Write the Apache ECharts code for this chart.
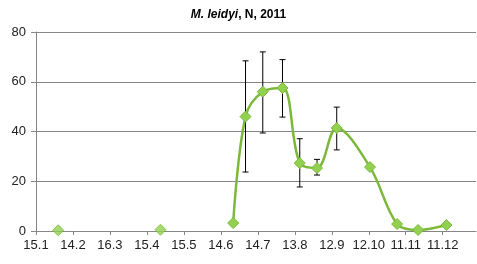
<!DOCTYPE html>
<html>
<head>
<meta charset="utf-8">
<script src="https://cdn.jsdelivr.net/npm/echarts@6/dist/echarts.min.js"></script>
<style>
  html, body { margin: 0; padding: 0; background: #fff; }
  #main { width: 477px; height: 264px; }
</style>
</head>
<body>
<div id="main"></div>
<script>
// sampling dates (2011) and abundance with error bars
const dates = ['2011-02-02', '2011-04-26', '2011-06-24', '2011-07-04', '2011-07-18', '2011-08-03',
  '2011-08-17', '2011-08-31', '2011-09-16', '2011-10-13', '2011-11-04', '2011-11-21', '2011-12-14'];
const values = [0.3, 0.5, 3.2, 46, 56, 57.5, 27.3, 25.3, 41.4, 25.7, 2.8, 0.4, 2.4];
const errLow = [null, null, null, 23.7, 39.4, 45.8, 17.7, 22.5, 32.6, null, null, null, null];
const errHigh = [null, null, null, 68.4, 72, 68.9, 37.1, 28.8, 49.8, null, null, null, null];
// first two samples are not joined to the curve (gaps in the series)
const joined = [false, false, true, true, true, true, true, true, true, true, true, true, true];
// x axis tick labels, every 30 days from 15 Jan
const tickLabels = ['15.1', '14.2', '16.3', '15.4', '15.5', '14.6', '14.7', '13.8', '12.9', '12.10', '11.11', '11.12'];

const start = Date.UTC(2011, 0, 15);
const dayOf = (s) => (Date.parse(s + 'T00:00:00Z') - start) / 86400000;

const lineData = [];
const looseData = [];
const errData = [];
dates.forEach((d, i) => {
  if (joined[i]) lineData.push([dayOf(d), values[i]]);
  else looseData.push([dayOf(d), values[i]]);
  if (errLow[i] != null) errData.push([dayOf(d), errLow[i], errHigh[i]]);
});

const markerStyle = { color: '#92d050', borderColor: '#7cb83a', borderWidth: 1 };

const chart = echarts.init(document.getElementById('main'));
chart.setOption({
  animation: false,
  title: {
    text: '{i|M. leidyi}{b|, N, 2011}',
    left: 'center',
    top: 4,
    textStyle: {
      rich: {
        i: { fontFamily: 'Liberation Sans', fontSize: 12, fontWeight: 'bold', fontStyle: 'italic', color: '#000' },
        b: { fontFamily: 'Liberation Sans', fontSize: 12, fontWeight: 'bold', color: '#000' }
      }
    }
  },
  grid: { left: 36, right: 1, top: 32, bottom: 33, containLabel: false },
  xAxis: {
    type: 'value',
    min: 0,
    max: 357,
    interval: 30,
    axisLine: { lineStyle: { color: '#868686', width: 1 } },
    axisTick: { show: true, length: 4, lineStyle: { color: '#868686' } },
    splitLine: { show: false },
    axisLabel: {
      showMaxLabel: false,
      margin: 8,
      fontFamily: 'Liberation Sans',
      fontSize: 13,
      color: '#222',
      formatter: (v) => tickLabels[Math.round(v / 30)] || ''
    }
  },
  yAxis: {
    type: 'value',
    min: 0,
    max: 80,
    interval: 20,
    axisLine: { show: true, lineStyle: { color: '#868686', width: 1 } },
    axisTick: { show: true, length: 5, lineStyle: { color: '#868686' } },
    splitLine: { lineStyle: { color: '#868686', width: 1 } },
    axisLabel: { margin: 10, fontFamily: 'Liberation Sans', fontSize: 13, color: '#222' }
  },
  series: [
    {
      type: 'custom',
      z: 3,
      data: errData,
      renderItem: (params, api) => {
        const x = api.value(0);
        const lo = api.coord([x, api.value(1)]);
        const hi = api.coord([x, api.value(2)]);
        const w = 3;
        const st = { stroke: '#000', lineWidth: 1 };
        return {
          type: 'group',
          children: [
            { type: 'line', shape: { x1: lo[0], y1: lo[1], x2: hi[0], y2: hi[1] }, style: st },
            { type: 'line', shape: { x1: lo[0] - w, y1: lo[1], x2: lo[0] + w, y2: lo[1] }, style: st },
            { type: 'line', shape: { x1: hi[0] - w, y1: hi[1], x2: hi[0] + w, y2: hi[1] }, style: st }
          ]
        };
      }
    },
    {
      type: 'line',
      z: 4,
      data: lineData,
      smooth: 0.35,
      symbol: 'diamond',
      symbolSize: 11,
      lineStyle: { color: '#7cb83a', width: 2.5 },
      itemStyle: markerStyle
    },
    {
      type: 'scatter',
      z: 4,
      data: looseData,
      symbol: 'diamond',
      symbolSize: 11,
      itemStyle: markerStyle
    }
  ]
});
</script>
</body>
</html>
